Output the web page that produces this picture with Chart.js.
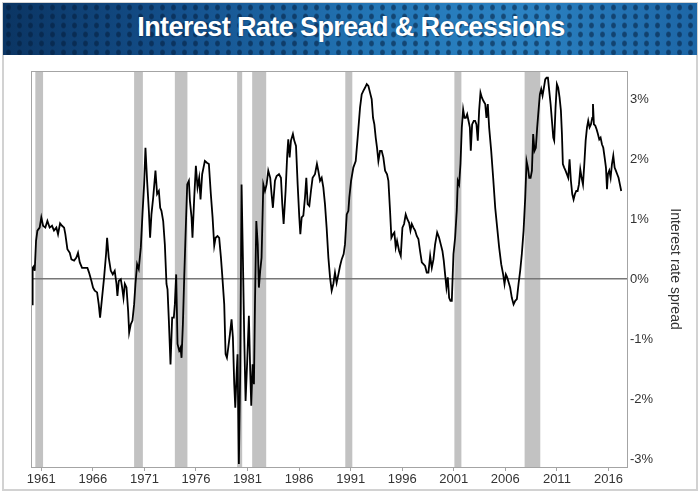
<!DOCTYPE html>
<html>
<head>
<meta charset="utf-8">
<script src="https://cdn.jsdelivr.net/npm/chart.js@4.4.0/dist/chart.umd.min.js"></script>
<style>
  body { margin: 0; background: #fff; }
  #wrap { position: relative; width: 700px; height: 492px; overflow: hidden; }
  #frame { position: absolute; left: 2px; top: 2px; width: 692px; height: 485px; border: 2px solid #d2d2d2; }
  #banner {
    position: absolute; left: 3px; top: 3px; width: 694px; height: 52px;
    background:
      radial-gradient(ellipse 3px 3.5px at 50% 50%, rgba(4,28,58,0.55) 60%, rgba(4,28,58,0) 100%) 0 0 / 11px 9px,
      linear-gradient(90deg, #0b3563 0%, #14508c 25%, #2478b8 55%, #2b82c2 75%, #1d66a6 100%);
    color: #fff; font: bold 27px "Liberation Sans", Arial, sans-serif;
    text-align: center; line-height: 52px; letter-spacing: -0.6px;
  }
  #banner span { position: relative; left: 1px; top: -2px; text-shadow: 0 0 2px rgba(0,30,60,0.5); }
  #chartBox { position: absolute; left: 0; top: 0; width: 700px; height: 492px; }
</style>
</head>
<body>
<div id="wrap">
  <div id="chartBox"><canvas id="myChart" width="700" height="492"></canvas></div>
  <div id="frame"></div>
  <div id="banner"><span>Interest Rate Spread &amp; Recessions</span></div>
</div>
<script>
// spread values (year as decimal, spread in %)
let years = [
  1960.10,1960.16,1960.29,1960.36,1960.49,1960.62,1960.84,1961.00,1961.17,1961.39,1961.59,1961.81,
  1962.04,1962.23,1962.46,1962.62,1962.82,1963.01,1963.21,1963.33,1963.53,1963.76,1963.92,1964.18,
  1964.40,1964.56,1964.73,1964.95,1965.21,1965.47,1965.63,1965.86,1966.02,1966.18,1966.41,1966.57,
  1966.70,1966.89,1967.09,1967.28,1967.38,1967.54,1967.74,1967.93,1968.12,1968.29,1968.38,1968.51,
  1968.71,1968.84,1968.97,1969.10,1969.26,1969.42,1969.52,1969.68,1969.84,1970.00,1970.13,1970.29,
  1970.45,1970.65,1970.81,1970.97,1971.10,1971.26,1971.43,1971.55,
  1971.68,1971.85,1972.07,1972.23,1972.40,1972.53,1972.65,1972.82,1972.98,1973.14,1973.24,1973.37,
  1973.53,1973.69,1973.85,1973.95,1974.08,1974.21,1974.37,1974.50,1974.60,1974.73,1974.86,1974.98,
  1975.15,1975.31,1975.41,1975.57,1975.66,1975.83,1975.99,1976.15,1976.31,1976.44,1976.60,1976.73,
  1976.86,1977.06,1977.25,1977.44,1977.61,1977.77,1977.90,1978.09,1978.25,1978.42,1978.54,1978.74,
  1978.87,1979.00,1979.13,1979.29,1979.45,1979.58,1979.71,1979.81,1979.94,1980.03,1980.16,1980.29,
  1980.42,1980.55,1980.68,1980.81,1980.97,1981.13,1981.26,1981.36,1981.49,1981.62,1981.72,1981.85,
  1981.99,1982.10,1982.23,1982.36,1982.53,1982.69,1982.85,1983.01,1983.20,
  1983.33,1983.46,1983.66,1983.82,1984.05,1984.24,1984.37,1984.50,1984.69,1984.85,1984.95,1985.08,
  1985.21,1985.40,1985.53,1985.70,1985.86,1986.02,1986.12,1986.25,1986.41,1986.57,1986.70,1986.83,
  1986.99,1987.15,1987.31,1987.54,1987.73,1987.86,1988.03,1988.19,1988.35,1988.51,1988.67,1988.84,
  1989.00,1989.16,1989.32,1989.48,1989.64,1989.81,1989.97,1990.13,1990.32,1990.45,1990.62,1990.78,
  1990.87,1991.04,1991.26,1991.49,1991.68,1991.91,1992.07,1992.23,1992.39,1992.56,1992.72,1992.88,
  1993.04,1993.17,1993.30,1993.43,1993.56,1993.69,1993.85,1994.01,1994.17,1994.34,1994.53,1994.66,
  1994.82,1994.95,1995.11,1995.24,1995.37,1995.50,1995.70,1995.86,1996.02,1996.18,1996.34,1996.50,
  1996.67,1996.80,1996.93,1997.09,1997.25,1997.41,1997.57,1997.73,1997.90,1998.06,1998.22,1998.38,
  1998.54,1998.71,1998.87,1999.03,1999.19,1999.39,1999.58,1999.74,1999.90,2000.03,2000.16,2000.29,
  2000.42,2000.55,2000.68,2000.81,2000.97,2001.13,2001.29,2001.39,2001.52,2001.65,2001.78,2001.91,
  2002.04,2002.17,2002.30,2002.43,2002.56,2002.65,2002.78,2002.94,2003.07,2003.20,2003.33,2003.46,
  2003.59,2003.72,2003.88,2004.05,2004.17,2004.30,2004.43,2004.63,2004.82,2005.02,2005.21,2005.40,
  2005.60,2005.79,2005.92,2006.05,2006.18,2006.37,
  2006.47,2006.63,2006.80,2006.96,2007.12,2007.28,2007.44,2007.60,2007.77,2007.93,2008.06,2008.19,
  2008.32,2008.45,2008.58,2008.70,2008.83,2008.96,2009.09,2009.22,2009.35,2009.48,2009.61,2009.74,
  2009.87,2010.00,2010.13,2010.26,2010.39,2010.52,2010.65,2010.74,2010.87,2011.00,2011.13,2011.26,
  2011.39,2011.49,2011.58,2011.71,2011.84,2011.97,2012.10,2012.23,2012.36,2012.49,2012.62,2012.75,
  2012.88,2013.01,2013.14,2013.27,2013.40,2013.53,2013.66,2013.79,2013.92,2014.04,2014.17,2014.30,
  2014.43,2014.50,2014.59,2014.72,2014.85,2014.98,2015.11,2015.24,2015.37,2015.50,2015.63,2015.76,
  2015.86,2015.95,2016.08,2016.21,2016.34,2016.47,2016.60,2016.72,2016.85,2016.98,2017.11,2017.24
];
let spread = [
  -0.42,0.19,0.22,0.14,0.64,0.81,0.86,1.03,0.89,0.86,0.97,0.86,
  0.89,0.81,0.86,0.75,0.93,0.89,0.86,0.75,0.50,0.44,0.33,0.31,
  0.36,0.44,0.28,0.19,0.19,0.19,0.11,-0.03,-0.14,-0.19,-0.22,-0.42,
  -0.64,-0.31,0.03,0.42,0.69,0.36,0.14,0.08,0.14,-0.08,-0.28,-0.03,
  0.00,-0.14,-0.31,-0.08,-0.14,-0.53,-0.89,-0.75,-0.69,-0.42,-0.08,0.25,
  0.17,0.53,1.08,1.58,2.19,1.64,1.14,0.69,
  1.08,1.36,1.81,1.42,1.47,1.19,1.14,0.97,0.58,-0.08,-0.17,-0.69,
  -1.42,-0.64,-0.64,-0.42,0.08,-1.08,-1.19,-1.14,-1.31,-0.75,0.03,0.69,
  1.58,1.64,1.31,1.03,0.69,1.36,1.89,1.53,1.69,1.33,1.75,1.86,
  1.97,1.94,1.92,1.42,1.03,0.56,0.69,0.72,0.69,0.36,0.08,-0.42,
  -1.25,-1.31,-1.14,-0.92,-0.67,-0.97,-1.75,-2.14,-1.58,-1.25,-3.08,-1.53,
  1.58,0.36,-0.97,-2.03,-1.36,-0.61,-1.53,-2.11,-1.42,-1.75,-0.42,0.97,
  0.58,-0.14,0.14,0.36,1.58,1.47,1.58,1.81,1.69,
  1.42,1.19,1.64,1.72,1.75,1.69,1.25,0.92,1.47,2.08,2.33,2.03,
  2.31,2.42,2.31,2.22,1.58,1.03,0.75,1.03,1.06,1.36,1.69,1.25,
  1.22,1.47,1.69,1.75,1.92,1.81,1.64,1.69,1.53,1.25,0.86,0.36,
  0.03,-0.19,-0.08,0.11,-0.06,0.08,0.22,0.33,0.42,0.58,1.08,1.14,
  1.36,1.64,1.86,1.97,2.36,2.86,3.08,3.14,3.19,3.25,3.22,3.11,
  3.00,2.69,2.58,2.36,2.19,1.97,2.14,2.14,2.03,1.81,1.75,1.64,
  1.14,0.69,0.75,0.78,0.53,0.64,0.47,0.39,0.86,0.92,1.08,1.00,
  0.94,0.81,0.92,0.86,0.81,0.72,0.67,0.47,0.28,0.25,0.22,0.11,
  0.11,0.39,0.19,0.33,0.58,0.78,0.69,0.58,0.47,0.31,0.08,-0.14,
  0.03,-0.31,-0.36,-0.36,0.42,0.69,1.14,1.64,1.58,1.92,2.53,2.83,
  2.69,2.69,2.75,2.64,2.53,2.14,2.58,2.64,2.64,2.58,2.31,2.81,
  3.11,3.03,2.97,2.92,2.69,2.92,2.53,2.14,1.69,1.19,0.86,0.53,
  0.25,0.08,-0.08,0.08,0.03,-0.08,
  -0.14,-0.31,-0.42,-0.36,-0.33,-0.08,0.14,0.42,0.81,1.36,1.97,1.86,
  1.69,1.69,1.81,2.42,2.14,2.19,2.53,2.81,3.08,3.17,3.06,3.19,
  3.33,3.36,3.36,3.14,2.92,2.64,2.36,2.31,2.86,3.25,3.19,3.03,
  2.81,2.42,1.92,1.86,1.81,1.75,1.69,2.00,1.64,1.42,1.33,1.42,
  1.47,1.47,1.58,1.83,1.69,1.58,1.92,2.31,2.53,2.64,2.53,2.58,
  2.69,2.92,2.58,2.56,2.50,2.42,2.33,2.36,2.25,2.19,2.03,1.86,
  1.50,1.75,1.81,1.69,1.92,2.06,1.86,1.81,1.75,1.69,1.58,1.47
];

// recession periods (start, end)
let recessionStart = [1960.42, 1970.00, 1973.95, 1979.99, 1981.45, 1990.48, 2001.06, 2007.87];
let recessionEnd   = [1961.17, 1970.85, 1975.17, 1980.48, 1982.81, 1991.16, 2001.74, 2009.39];

let xTickYears = [1961, 1966, 1971, 1976, 1981, 1986, 1991, 1996, 2001, 2006, 2011, 2016];
let yTickValues = [-3, -2, -1, 0, 1, 2, 3];

let points = years.map(function(y, i) { return { x: y, y: spread[i] }; });

let recessionPlugin = {
  id: "recessions",
  beforeDraw: function(chart) {
    let ctx = chart.ctx;
    let xs = chart.scales.x;
    let area = chart.chartArea;
    ctx.save();
    ctx.fillStyle = "#c2c2c2";
    for (let i = 0; i < recessionStart.length; i++) {
      let x1 = xs.getPixelForValue(recessionStart[i]);
      let x2 = xs.getPixelForValue(recessionEnd[i]);
      ctx.fillRect(x1, area.top, x2 - x1, area.bottom - area.top);
    }
    ctx.restore();
  },
  afterDraw: function(chart) {
    let ctx = chart.ctx;
    let a = chart.chartArea;
    ctx.save();
    ctx.strokeStyle = "#a4a4a4";
    ctx.lineWidth = 1;
    ctx.strokeRect(a.left + 0.5, a.top + 0.5, a.right - a.left, a.bottom - a.top);
    ctx.restore();
  }
};

let canvasEl = document.getElementById("myChart").getContext("2d");
let myChart = new Chart(canvasEl, {
  type: "line",
  data: {
    datasets: [{
      label: "Interest rate spread",
      data: points,
      borderColor: "#000",
      borderWidth: 1.8,
      pointRadius: 0,
      tension: 0,
      fill: false
    }]
  },
  options: {
    responsive: false,
    animation: false,
    layout: { padding: { top: 71, left: 31, right: 13, bottom: 0 } },
    plugins: { legend: { display: false }, tooltip: { enabled: false } },
    scales: {
      x: {
        type: "linear",
        min: 1960.0,
        max: 2017.8,
        afterBuildTicks: function(axis) {
          axis.ticks = xTickYears.map(function(v) { return { value: v }; });
        },
        afterFit: function(axis) { axis.height = 25; },
        ticks: {
          color: "#333",
          font: { family: "Liberation Sans", size: 13 },
          padding: 1,
          maxRotation: 0,
          autoSkip: false,
          callback: function(v) { return String(v); }
        },
        grid: { drawOnChartArea: false, tickLength: 4, color: "#a4a4a4" },
        border: { color: "#a4a4a4" }
      },
      y: {
        position: "right",
        min: -3.13,
        max: 3.47,
        afterBuildTicks: function(axis) {
          axis.ticks = yTickValues.map(function(v) { return { value: v }; });
        },
        afterFit: function(axis) { axis.width = 60; },
        ticks: {
          color: "#333",
          font: { family: "Liberation Sans", size: 13 },
          padding: 3,
          callback: function(v) { return v + "%"; }
        },
        grid: {
          tickLength: 5,
          color: function(c) { return c.tick && c.tick.value === 0 ? "#777" : "rgba(0,0,0,0)"; },
          lineWidth: function(c) { return c.tick && c.tick.value === 0 ? 1.5 : 1; },
          drawTicks: false
        },
        border: { color: "#a4a4a4" },
        title: {
          display: true,
          text: "Interest rate spread",
          color: "#333",
          font: { family: "Liberation Sans", size: 14 },
          padding: { top: 4, bottom: 4 }
        }
      }
    }
  },
  plugins: [recessionPlugin]
});
</script>
</body>
</html>
